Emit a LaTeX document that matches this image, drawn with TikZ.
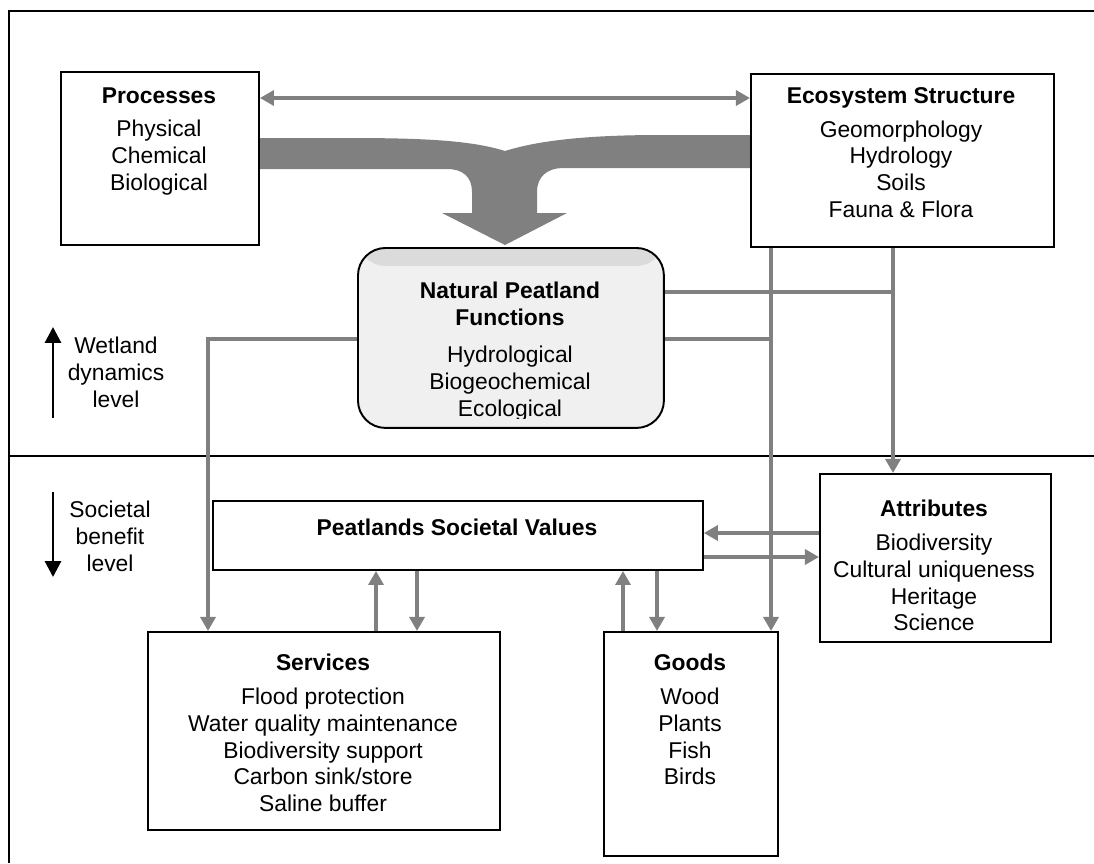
\documentclass[tikz,border=0pt]{standalone}
\usepackage{fontspec}
\setmainfont{Liberation Sans}
\usetikzlibrary{positioning, arrows.meta}

\begin{document}
\begin{tikzpicture}[x=0.02cm, y=-0.02cm, >=latex,
    font=\fontsize{13}{15.2}\selectfont,
    box/.style={draw, line width=1.1pt, anchor=north west, inner sep=0pt},
    boxtext/.style={anchor=north, align=center, inner sep=0pt},
    gline/.style={draw=gray, line width=2.3pt},
    garrow/.style={gline, -{Triangle[length=8pt, width=8.5pt]}},
    karrow/.style={line width=1.7pt, -{Triangle[length=9pt, width=9pt]}}]

\useasboundingbox (0,0) rectangle (1094,863);

% frame and level line
\draw[line width=1.1pt] (9,863) -- (9,11) -- (1094,11);
\draw[line width=1.1pt] (9,456) -- (1094,456);

% big merging arrow
\fill[gray] (258,138) -- (347,138) .. controls (420,138) and (470,140) .. (505,151)
    .. controls (540,140) and (590,135) .. (661,135) -- (750,135) -- (750,168) -- (563,168)
    .. controls (548,168) and (537,176) .. (537,192) -- (537,213) -- (567,213) -- (505,245)
    -- (442,213) -- (472,213) -- (472,192) .. controls (472,177) and (463,169) .. (447,169)
    -- (258,169) -- cycle;

% boxes
\node[box, minimum width=3.96cm, minimum height=3.46cm] (proc) at (60,71) {};
\node[box, minimum width=6.06cm, minimum height=3.46cm] (eco) at (750,73) {};
\node[box, rounded corners=0.55cm, fill=gray!12, minimum width=6.12cm, minimum height=3.6cm,
    path picture={\fill[gray!28] (path picture bounding box.north west) rectangle
    ([yshift=-0.36cm]path picture bounding box.north east);}] (npf) at (357,247) {};
\node[box, minimum width=9.8cm, minimum height=1.38cm] (psv) at (212,500) {};
\node[box, minimum width=4.62cm, minimum height=3.36cm] (attr) at (819,473) {};
\node[box, minimum width=7.04cm, minimum height=3.96cm] (serv) at (147,631) {};
\node[box, minimum width=3.48cm, minimum height=4.48cm] (goods) at (603,631) {};

% texts
\node[boxtext] (procT) at (159,87) {\textbf{Processes}\\[4pt] Physical\\ Chemical\\ Biological};
\node[boxtext] (ecoT) at (901,87) {\textbf{Ecosystem Structure}\\[4pt] Geomorphology\\ Hydrology\\ Soils\\ Fauna \& Flora};
\begin{scope}
  % the function list runs into the lower edge
  \clip (npf.north west) rectangle ([yshift=0.2cm]npf.south east);
  \node[boxtext] (npfT) at (510,282) {\textbf{Natural Peatland}\\ \textbf{Functions}\\[6pt] Hydrological\\ Biogeochemical\\ Ecological};
\end{scope}
\node[boxtext] (psvT) at (457,519) {\textbf{Peatlands Societal Values}};
\node[boxtext] (attrT) at (934,500) {\textbf{Attributes}\\[4pt] Biodiversity\\ Cultural uniqueness\\ Heritage\\ Science};
\node[boxtext] (servT) at (323,654) {\textbf{Services}\\[4pt] Flood protection\\ Water quality maintenance\\ Biodiversity support\\ Carbon sink/store\\ Saline buffer};
\node[boxtext] (goodsT) at (690,654) {\textbf{Goods}\\[4pt] Wood\\ Plants\\ Fish\\ Birds};
\node[boxtext] (wet) at (116,337) {Wetland\\ dynamics\\ level};
\node[boxtext] (soc) at (110,501) {Societal\\ benefit\\ level};

% level arrows
\coordinate (wa) at (53,418);
\coordinate (wb) at (53,327);
\coordinate (sa) at (53,492);
\coordinate (sb) at (53,577);
\draw[karrow] (wa) -- (wb);
\draw[karrow] (sa) -- (sb);

% helper lines for the connectors
\coordinate (ytop) at (0,98);
\coordinate (yfa) at (0,292);
\coordinate (yfb) at (0,339);
\coordinate (xleft) at (208,0);
\coordinate (xg) at (771,0);
\coordinate (xa) at (893,0);
\coordinate (yva) at (0,533);
\coordinate (yvb) at (0,557);
\coordinate (xsu) at (376,0);
\coordinate (xsd) at (417,0);
\coordinate (xgu) at (623,0);
\coordinate (xgd) at (657,0);

\draw[gline, {Triangle[length=8pt, width=8.5pt]}-{Triangle[length=8pt, width=8.5pt]}]
    (proc.east |- ytop) -- (eco.west |- ytop);
\draw[garrow] (npf.west |- yfb) -| (serv.north -| xleft);
\draw[gline] (npf.east |- yfa) -- (yfa -| xa);
\draw[gline] (npf.east |- yfb) -- (yfb -| xg);
\draw[garrow] (eco.south -| xg) -- (goods.north -| xg);
\draw[garrow] (eco.south -| xa) -- (attr.north -| xa);
\draw[garrow] (attr.west |- yva) -- (psv.east |- yva);
\draw[garrow] (psv.east |- yvb) -- (attr.west |- yvb);
\draw[garrow] (serv.north -| xsu) -- (psv.south -| xsu);
\draw[garrow] (psv.south -| xsd) -- (serv.north -| xsd);
\draw[garrow] (goods.north -| xgu) -- (psv.south -| xgu);
\draw[garrow] (psv.south -| xgd) -- (goods.north -| xgd);
\end{tikzpicture}
\end{document}
